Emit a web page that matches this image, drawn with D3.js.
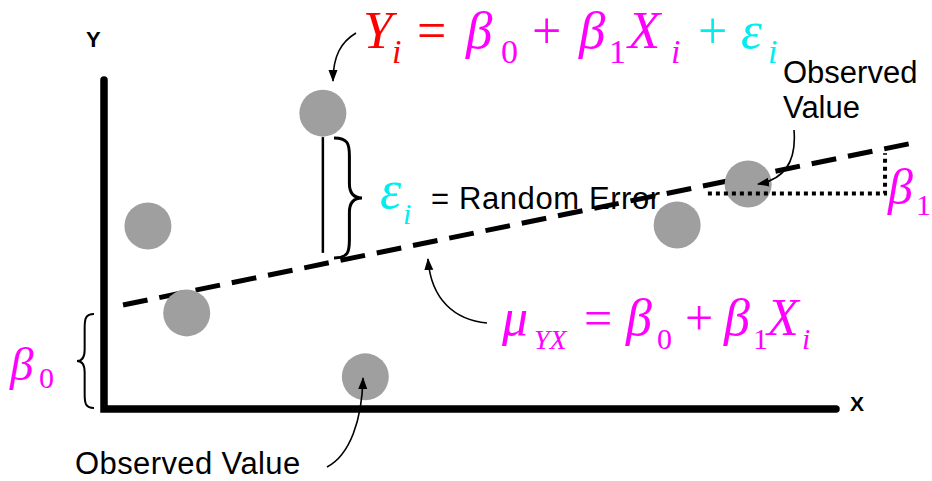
<!DOCTYPE html>
<html><head><meta charset="utf-8">
<script src="https://cdn.jsdelivr.net/npm/d3@7"></script>
<style>html,body{margin:0;padding:0;background:#fff;}svg{display:block;}</style>
</head><body>
<svg id="c" width="932" height="481"></svg>
<script>
// ---- data (abstract units) ----
const pointX = [0.60, 1.13, 2.99, 3.57, 7.83, 8.80];
const pointY = [5.58, 2.93, 9.02, 0.98, 5.61, 6.86];
const lineX = [0.26, 11.05];
const lineY = [3.17, 8.11];
const errorX = 2.99;
const errorY = [8.29, 4.76];
const slopeX = [8.25, 10.67];
const slopeY = [6.57, 7.80];
const axisLabels = ["X", "Y"];

const svg = d3.select("#c");
const x = d3.scaleLinear().domain([0, 10]).range([104, 836]);
const y = d3.scaleLinear().domain([0, 10]).range([409, 81]);

const serif = "'Liberation Serif','Times New Roman',serif";
const sans = "'Liberation Sans',Arial,Helvetica,sans-serif";
const RED = "#ff0000", MAG = "#ff00ff", CYN = "#00eeee";

// arrow marker
svg.append("defs").append("marker")
  .attr("id", "ah").attr("viewBox", "0 -5 12 10")
  .attr("markerUnits", "userSpaceOnUse")
  .attr("markerWidth", 12).attr("markerHeight", 10)
  .attr("refX", 11).attr("refY", 0).attr("orient", "auto")
  .append("path").attr("d", "M0,-4.5L12,0L0,4.5Z").attr("fill", "#000");

// regression line (dashed)
svg.append("line")
  .attr("x1", x(lineX[0])).attr("y1", y(lineY[0]))
  .attr("x2", x(lineX[1])).attr("y2", y(lineY[1]))
  .attr("stroke", "#000").attr("stroke-width", 5)
  .attr("stroke-dasharray", "25 12");

// points
svg.selectAll("circle.pt").data(pointX.map((v, i) => [v, pointY[i]]))
  .enter().append("circle").attr("class", "pt")
  .attr("cx", d => x(d[0])).attr("cy", d => y(d[1])).attr("r", 23.5)
  .attr("fill", "#9f9f9f");

// slope triangle (dotted)
svg.append("path")
  .attr("d", `M${x(slopeX[0])},${y(slopeY[0])}L${x(slopeX[1])},${y(slopeY[0])}L${x(slopeX[1])},${y(slopeY[1])}`)
  .attr("fill", "none").attr("stroke", "#000").attr("stroke-width", 4)
  .attr("stroke-dasharray", "4 4");

// error segment
svg.append("line")
  .attr("x1", x(errorX)).attr("x2", x(errorX))
  .attr("y1", y(errorY[0])).attr("y2", y(errorY[1]))
  .attr("stroke", "#000").attr("stroke-width", 2.5);

// axes
const [x0, x1] = x.range(), [yb, yt] = y.range();
svg.append("path")
  .attr("d", `M${x0},${yt - 1}L${x0},${yb}L${x1},${yb}`)
  .attr("fill", "none").attr("stroke", "#000").attr("stroke-width", 7.5)
  .attr("stroke-linecap", "round").attr("stroke-linejoin", "miter");

svg.append("text").text(axisLabels[1]).attr("x", 86).attr("y", 47)
  .attr("font-family", sans).attr("font-weight", "bold").attr("font-size", 22);
svg.append("text").text(axisLabels[0]).attr("x", 850).attr("y", 411)
  .attr("font-family", sans).attr("font-weight", "bold").attr("font-size", 21);

// braces
function brace(xa, ya, yb2, w, dir) {
  const ym = (ya + yb2) / 2, h = yb2 - ya;
  const xm = xa + dir * w * 0.55, xt = xa + dir * w;
  return `M${xa},${ya} C${xa + dir * w * 0.5},${ya} ${xm},${ya + h * 0.05} ${xm},${ya + h * 0.15}` +
    ` L${xm},${ym - h * 0.12} C${xm},${ym - h * 0.03} ${xm + dir * w * 0.2},${ym} ${xt},${ym}` +
    ` C${xm + dir * w * 0.2},${ym} ${xm},${ym + h * 0.03} ${xm},${ym + h * 0.12}` +
    ` L${xm},${yb2 - h * 0.15} C${xm},${yb2 - h * 0.05} ${xa + dir * w * 0.5},${yb2} ${xa},${yb2}`;
}
svg.append("path").attr("d", brace(334, 138, 258, 28, 1))
  .attr("fill", "none").attr("stroke", "#000").attr("stroke-width", 3);
svg.append("path").attr("d", brace(94, 314, 408, 17, -1))
  .attr("fill", "none").attr("stroke", "#000").attr("stroke-width", 2);

// arrows
const arrows = [
  "M356,33 C341,42 333,56 333,81",
  "M794,130 C797,166 781,180 758,184",
  "M487,323 C455,320 431,300 428,259",
  "M327,467 C350,455 362,420 363,378"
];
svg.selectAll("path.arr").data(arrows).enter().append("path").attr("class", "arr")
  .attr("d", d => d).attr("fill", "none").attr("stroke", "#000").attr("stroke-width", 1.6)
  .attr("marker-end", "url(#ah)");

// math text helper: one text element, positioned tspans
function mathText(parts, baseline) {
  const t = svg.append("text").attr("font-family", serif);
  parts.forEach(p => {
    t.append("tspan").text(p.t)
      .attr("x", p.x).attr("y", baseline + (p.dy || 0))
      .attr("font-size", p.s)
      .attr("font-style", p.it ? "italic" : "normal")
      .attr("fill", p.c);
  });
}

// top equation
mathText([
  {t: "Y", x: 363, s: 53, it: true, c: RED},
  {t: "i", x: 392, s: 34, it: true, c: RED, dy: 15},
  {t: "=", x: 417, s: 52, c: RED},
  {t: "β", x: 466, s: 53, it: true, c: MAG},
  {t: "0", x: 501, s: 34, c: MAG, dy: 15},
  {t: "+", x: 532, s: 52, c: MAG},
  {t: "β", x: 579, s: 53, it: true, c: MAG},
  {t: "1", x: 609, s: 34, c: MAG, dy: 15},
  {t: "X", x: 628, s: 53, it: true, c: MAG},
  {t: "i", x: 671, s: 34, it: true, c: MAG, dy: 15},
  {t: "+", x: 698, s: 52, c: CYN},
  {t: "ε", x: 741, s: 53, it: true, c: CYN},
  {t: "i", x: 768, s: 34, it: true, c: CYN, dy: 15}
], 48);

// mu equation
mathText([
  {t: "μ", x: 502, s: 52, it: true, c: MAG},
  {t: "YX", x: 534, s: 28, it: true, c: MAG, dy: 14},
  {t: "=", x: 584, s: 50, c: MAG},
  {t: "β", x: 626, s: 52, it: true, c: MAG},
  {t: "0", x: 657, s: 30, c: MAG, dy: 14},
  {t: "+", x: 685, s: 50, c: MAG},
  {t: "β", x: 724, s: 52, it: true, c: MAG},
  {t: "1", x: 753, s: 30, c: MAG, dy: 14},
  {t: "X", x: 767, s: 52, it: true, c: MAG},
  {t: "i", x: 802, s: 30, it: true, c: MAG, dy: 14}
], 335);

// epsilon label
mathText([
  {t: "ε", x: 380, s: 54, it: true, c: CYN},
  {t: "i", x: 403, s: 30, it: true, c: CYN, dy: 16}
], 208);
svg.append("text").text("= Random Error").attr("x", 431).attr("y", 209)
  .attr("font-family", sans).attr("font-size", 31).attr("letter-spacing", 0.6).attr("fill", "#000");

// beta labels
mathText([
  {t: "β", x: 888, s: 50, it: true, c: MAG},
  {t: "1", x: 916, s: 30, c: MAG, dy: 11}
], 204);
mathText([
  {t: "β", x: 10, s: 47, it: true, c: MAG},
  {t: "0", x: 39, s: 30, c: MAG, dy: 8}
], 380);

// observed value labels
svg.append("text").attr("font-family", sans).attr("font-size", 31).attr("fill", "#000")
  .selectAll("tspan").data(["Observed", "Value"]).enter().append("tspan")
  .attr("x", 783).attr("y", (d, i) => 83 + i * 35).text(d => d);
svg.append("text").text("Observed Value").attr("x", 75).attr("y", 474)
  .attr("font-family", sans).attr("font-size", 31).attr("letter-spacing", 0.4).attr("fill", "#000");
</script>
</body></html>
